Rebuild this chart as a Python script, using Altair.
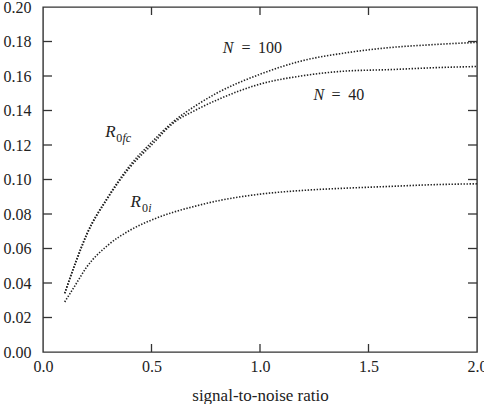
import altair as alt
import pandas as pd

# ---- data ----
snr = [0.1, 0.15, 0.2, 0.3, 0.4, 0.5, 0.6, 0.7, 0.8, 1.0, 1.2, 1.4, 1.6, 1.8, 2.0]
r0fc_n100 = [0.034, 0.052, 0.068, 0.090, 0.108, 0.1215, 0.1335, 0.1425, 0.150, 0.161,
             0.169, 0.1735, 0.1765, 0.1782, 0.1795]
r0fc_n40 = [0.034, 0.0515, 0.0675, 0.0895, 0.107, 0.120, 0.1327, 0.140, 0.146, 0.1553,
            0.1602, 0.1629, 0.1637, 0.1648, 0.1655]
r0i = [0.029, 0.039, 0.049, 0.062, 0.0705, 0.0765, 0.081, 0.0845, 0.0875, 0.0915,
       0.0937, 0.095, 0.096, 0.097, 0.0975]

x_ticks = [0.0, 0.5, 1.0, 1.5, 2.0]
x_inner_ticks = [0.5, 1.0, 1.5]
y_ticks = [0.00, 0.02, 0.04, 0.06, 0.08, 0.10, 0.12, 0.14, 0.16, 0.18, 0.20]
y_inner_ticks = [0.02, 0.04, 0.06, 0.08, 0.10, 0.12, 0.14, 0.16, 0.18]

W, H = 434, 345
FONT = "Liberation Serif"
INK = "#222222"

rows = []
for name, vals in [("R0fc N=100", r0fc_n100), ("R0fc N=40", r0fc_n40), ("R0i", r0i)]:
    for x, v in zip(snr, vals):
        rows.append({"series": name, "snr": x, "R": v})
df = pd.DataFrame(rows)

xscale = alt.Scale(domain=[0, 2], nice=False, zero=False)
yscale = alt.Scale(domain=[0, 0.2], nice=False, zero=False)

xaxis = alt.Axis(values=x_ticks, format=".1f", ticks=False, domain=False, grid=False,
                 labelFont=FONT, labelFontSize=16, labelColor=INK, labelPadding=6,
                 labelOverlap=False, labelFlush=False,
                 title="signal-to-noise ratio", titleFont=FONT, titleFontSize=17,
                 titleFontWeight="normal", titleColor=INK, titlePadding=13)
yaxis = alt.Axis(values=y_ticks, format=".2f", ticks=False, domain=False, grid=False,
                 labelFont=FONT, labelFontSize=16, labelColor=INK, labelPadding=12,
                 labelOverlap=False, labelFlush=False, title=None)


def X(field):
    return alt.X(field, scale=xscale, axis=xaxis, title="signal-to-noise ratio")


def Y(field):
    return alt.Y(field, scale=yscale, axis=yaxis, title=None)


lines = alt.Chart(df).mark_line(
    color="#222222", strokeWidth=1.6, strokeDash=[1.4, 1.6], interpolate="monotone"
).encode(x=X("snr:Q"), y=Y("R:Q"), detail="series:N")

yt = pd.DataFrame({"v": y_inner_ticks})
xt = pd.DataFrame({"v": x_inner_ticks})
tick_style = dict(color="#333333", strokeWidth=1.3)

left_ticks = alt.Chart(yt).mark_rule(**tick_style).encode(
    y=Y("v:Q"), x=alt.value(0), x2=alt.value(9))
right_ticks = alt.Chart(yt).mark_rule(**tick_style).encode(
    y=Y("v:Q"), x=alt.value(W - 9), x2=alt.value(W))
bottom_ticks = alt.Chart(xt).mark_rule(**tick_style).encode(
    x=X("v:Q"), y=alt.value(H), y2=alt.value(H - 8))
top_ticks = alt.Chart(xt).mark_rule(**tick_style).encode(
    x=X("v:Q"), y=alt.value(0), y2=alt.value(8))


# ---- annotations (data coordinates) ----
def txt(x, y, s, size=16, italic=False):
    return alt.Chart(pd.DataFrame({"x": [x], "y": [y], "t": [s]})).mark_text(
        font=FONT, fontSize=size, fontStyle="italic" if italic else "normal",
        align="left", baseline="alphabetic", color=INK
    ).encode(x=X("x:Q"), y=Y("y:Q"), text="t:N")


labels = [
    txt(0.828, 0.1732, "N", italic=True),
    txt(0.915, 0.1732, "="),
    txt(0.991, 0.1732, "100"),
    txt(1.246, 0.1461, "N", italic=True),
    txt(1.330, 0.1461, "="),
    txt(1.407, 0.1461, "40"),
    txt(0.287, 0.1248, "R", size=17, italic=True),
    txt(0.337, 0.1216, "0", size=12),
    txt(0.366, 0.1216, "fc", size=12, italic=True),
    txt(0.403, 0.0843, "R", size=17, italic=True),
    txt(0.456, 0.0812, "0", size=12),
    txt(0.485, 0.0812, "i", size=12, italic=True),
]

chart = alt.layer(lines, left_ticks, right_ticks, bottom_ticks, top_ticks, *labels).properties(
    width=W, height=H,
    autosize=alt.AutoSizeParams(type="none"),
    padding={"left": 43, "top": 7, "right": 7, "bottom": 52},
    background="white",
).configure_axis(labelOverlap=False).configure_view(stroke="#333333", strokeWidth=1.4)

chart.save("out.html", embed_options={"renderer": "svg", "actions": False})
